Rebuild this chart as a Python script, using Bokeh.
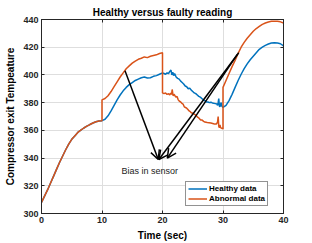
from bokeh.plotting import figure
from bokeh.models import Range1d, FixedTicker, LinearAxis, Arrow, OpenHead, Legend, LegendItem, Label
from bokeh.embed import file_html
from bokeh.resources import INLINE

# ---------------- data ----------------
common_t = [0, 0.5, 1, 1.5, 2, 2.5, 3, 3.5, 4, 4.5, 5, 5.5, 6, 6.5, 7, 7.5, 8, 8.5, 9, 9.5, 10]
common_v = [308, 312.5, 317, 322, 327, 332, 337, 341.5, 346, 350, 353.5, 356, 358.5, 360.2, 361.7,
            363, 364.2, 365.3, 366.2, 366.8, 367]

healthy_t = [10.5, 11, 11.5, 12, 12.5, 13, 13.5, 14, 14.5, 15, 15.5, 16, 16.5, 17, 17.5, 18, 18.5, 19,
             19.5, 20,
             20.25, 20.5, 20.75, 21, 21.2, 21.4, 21.55, 21.7, 21.85, 22, 22.25, 22.5, 22.75, 23, 23.25,
             23.5, 23.75, 24, 24.25, 24.5, 24.75, 25, 25.25, 25.5, 25.75, 26, 26.25, 26.5, 26.75, 27,
             27.25, 27.5, 27.75, 28, 28.25, 28.5, 28.75, 29, 29.1, 29.2, 29.3, 29.4, 29.5, 29.6, 29.7,
             29.8, 30,
             30.5, 31, 31.5, 32, 32.5, 33, 33.5, 34, 34.5, 35, 35.5, 36, 36.5, 37, 37.5, 38, 38.5, 39,
             39.5, 40]
healthy_v = [368, 370.5, 374, 378, 382, 385.5, 388.5, 391, 393, 394.5, 396, 397, 398, 398.5, 397.8, 398,
             399, 399.5, 400.5, 401.5,
             401, 400.5, 401.5, 401, 402.5, 403.5, 400, 402, 399.5, 401, 398.5, 397.5, 397, 395.5, 394.5,
             393.5, 392, 391.5, 390, 390.5, 389, 388, 387, 386.5, 385.5, 384.5, 384, 383, 382, 381.5,
             380.5, 380.5, 380, 380.3, 379.8, 379.5, 379.3, 379, 378, 380, 383, 377.5, 377, 379, 380,
             377.5, 376.5,
             378, 381.5, 386, 391, 396, 400.5, 404.5, 408, 411, 413.5, 416, 418.5, 420, 421.3, 422.3,
             423, 423.3, 423, 422.5, 421]

abnormal_t = [10, 10.5, 11, 11.5, 12, 12.5, 13, 13.5, 14, 14.5, 15, 15.5, 16, 16.5, 17, 17.5, 18, 18.5,
              19, 19.5, 20,
              20, 20.25, 20.5, 20.75, 21, 21.2, 21.35, 21.5, 21.6, 21.75, 21.9, 22, 22.2, 22.4, 22.6,
              22.8, 23, 23.2, 23.4, 23.6, 23.8, 24, 24.2, 24.4, 24.6, 24.8, 25, 25.3, 25.5, 25.8, 26,
              26.3, 26.5, 26.8, 27, 27.4, 27.7, 28, 28.3, 28.6, 28.9, 29.1, 29.2, 29.3, 29.4, 29.5,
              29.6, 29.8, 30,
              30, 30.5, 31, 31.5, 32, 32.5, 33, 33.5, 34, 34.5, 35, 35.5, 36, 36.5, 37, 37.5, 38, 38.5,
              39, 39.5, 40]
abnormal_v = [382, 383, 385, 388, 391.5, 395, 398.5, 401.5, 404.5, 406.5, 408.5, 410, 411.3, 412, 413,
              412.5, 413.5, 414, 414.5, 415.5, 416,
              387, 386.5, 387, 386, 386.5, 385.5, 387, 386, 389.5, 385, 386, 385.5, 384, 384.5, 382,
              381, 380.5, 379.5, 379, 377, 376.5, 376, 375, 374, 373.5, 372.5, 372.5, 371.5, 371,
              369.5, 369, 367.5, 367.5, 366.5, 366, 365.7, 365.5, 365.3, 365, 364.5, 364.5, 366, 370,
              363, 362, 364, 362, 361.5, 361,
              391, 396, 401, 406, 410.5, 415.5, 420, 423.5, 426.5, 429, 431.5, 433.5, 435, 436.5,
              437.5, 438.2, 438.7, 438.8, 438.7, 438.3, 437.5]

x_ticks = [0, 10, 20, 30, 40]
y_ticks = [300, 320, 340, 360, 380, 400, 420, 440]

arrow_x_start = [13.8, 32.6, 32.4]
arrow_y_start = [403, 416, 415]
arrow_x_end = [19.3, 19.4, 20.8]
arrow_y_end = [339, 339, 340]

note_text = "Bias in sensor"
note_x, note_y = 17.9, 331

title_text = "Healthy versus faulty reading"
x_label = "Time (sec)"
y_label = "Compressor exit Tempeature"
series_names = ["Healthy data", "Abnormal data"]

# ---------------- figure ----------------
BLUE = "#0072BD"
ORANGE = "#D95319"
AX = "#262626"
FONT = "Liberation Sans"

p = figure(width=312, height=243, output_backend="svg", toolbar_location=None,
           x_range=Range1d(0, 40), y_range=Range1d(300, 440),
           min_border_left=41, min_border_right=29, min_border_top=19, min_border_bottom=29)

p.title.text = title_text
p.title.text_font = FONT
p.title.text_font_size = "10px"
p.title.text_font_style = "bold"
p.title.text_color = "#000000"
p.title.align = "center"
p.title.standoff = 4

p.outline_line_color = AX
p.outline_line_width = 1
p.background_fill_color = "white"
p.border_fill_color = "white"

for ax, ticks in ((p.xaxis[0], x_ticks), (p.yaxis[0], y_ticks)):
    ax.ticker = FixedTicker(ticks=ticks)
    ax.major_tick_in = 3
    ax.major_tick_out = 0
    ax.minor_tick_line_color = None
    ax.axis_line_color = AX
    ax.major_tick_line_color = AX
    ax.major_label_text_font = FONT
    ax.major_label_text_font_size = "9px"
    ax.major_label_text_font_style = "bold"
    ax.major_label_text_color = AX
    ax.major_label_standoff = 3
    ax.axis_label_text_font = FONT
    ax.axis_label_text_font_size = "10px"
    ax.axis_label_text_font_style = "bold"
    ax.axis_label_text_color = "#000000"
    ax.axis_label_standoff = 4

p.xaxis.axis_label = x_label
p.yaxis.axis_label = y_label

for loc, ticks in (("right", y_ticks), ("above", x_ticks)):
    ax = LinearAxis(ticker=FixedTicker(ticks=ticks))
    ax.major_tick_in = 3
    ax.major_tick_out = 0
    ax.minor_tick_line_color = None
    ax.axis_line_color = AX
    ax.major_tick_line_color = AX
    ax.major_label_text_font_size = "1px"
    ax.major_label_text_alpha = 0
    ax.major_label_standoff = 0
    p.add_layout(ax, loc)

p.xgrid.ticker = FixedTicker(ticks=x_ticks)
p.ygrid.ticker = FixedTicker(ticks=y_ticks)
p.grid.grid_line_color = "#dedede"
p.grid.grid_line_width = 1

r_h = p.line(common_t + healthy_t, common_v + healthy_v, line_color=BLUE, line_width=1.5)
r_a = p.line(common_t + abnormal_t, common_v + abnormal_v, line_color=ORANGE, line_width=1.5)

for xs, ys, xe, ye in zip(arrow_x_start, arrow_y_start, arrow_x_end, arrow_y_end):
    p.add_layout(Arrow(x_start=xs, y_start=ys, x_end=xe, y_end=ye, line_color="black", line_width=1.5,
                       end=OpenHead(size=9, line_width=1.5, line_color="black")))

p.add_layout(Label(x=note_x, y=note_y, text=note_text, text_font=FONT, text_font_size="9px",
                   text_color="#222222", text_align="center", text_baseline="middle"))

legend = Legend(items=[LegendItem(label=series_names[0], renderers=[r_h]),
                       LegendItem(label=series_names[1], renderers=[r_a])],
                location=(144, 7))
legend.border_line_color = AX
legend.border_line_width = 1
legend.background_fill_color = "white"
legend.background_fill_alpha = 1
legend.label_text_font = FONT
legend.label_text_font_size = "8px"
legend.label_text_font_style = "bold"
legend.label_text_color = "#000000"
legend.glyph_width = 19
legend.glyph_height = 9
legend.label_height = 9
legend.label_standoff = 2
legend.padding = 2
legend.spacing = 1
legend.margin = 0
p.add_layout(legend)

open("out.html", "w").write(file_html(p, INLINE))
